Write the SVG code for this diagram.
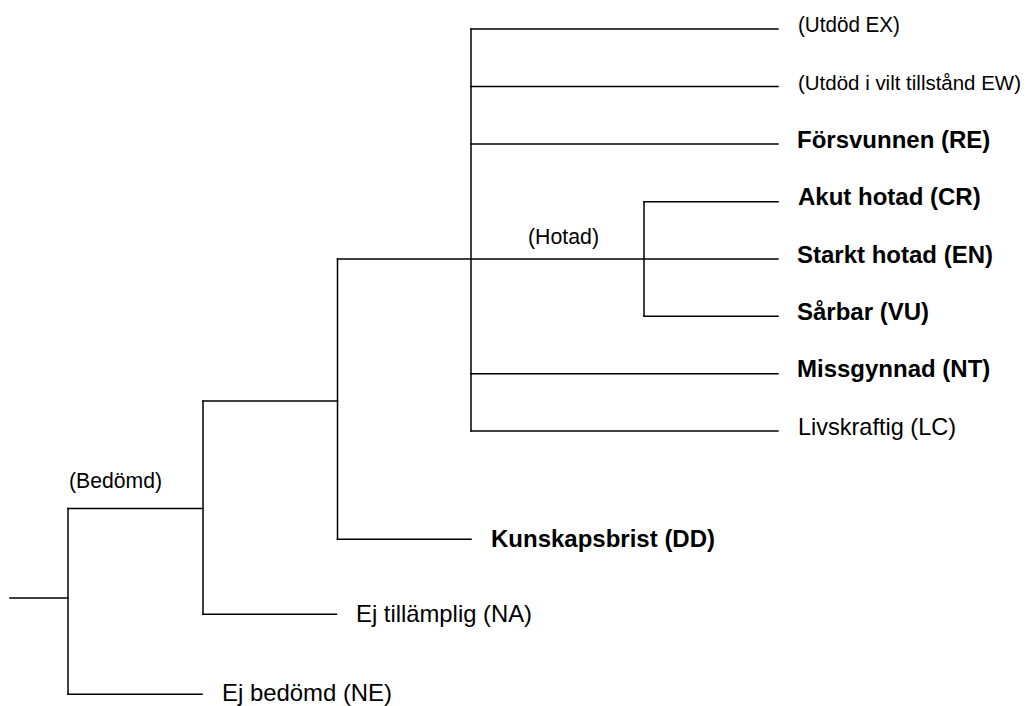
<svg xmlns="http://www.w3.org/2000/svg" width="1031" height="706" viewBox="0 0 1031 706">
  <style>
    .edge { stroke: #000; stroke-width: 1.5; fill: none; stroke-linecap: square; }
    .lbl { font-family: "Liberation Sans", Arial, sans-serif; font-size: 24px; fill: #000; }
    .bold { font-weight: bold; font-size: 24px; }
    .grp { font-family: "Liberation Sans", Arial, sans-serif; font-size: 22px; fill: #000; }
    .grp-s { font-size: 20.5px; }
  </style>
  <rect width="1031" height="706" fill="#fff"/>
  <g id="connectors">
    <path class="edge" d="M10,598 H68"/>
    <path class="edge" d="M68,508.5 V694.3"/>
    <path class="edge" d="M68,508.5 H203"/>
    <path class="edge" d="M68,694.3 H202"/>
    <path class="edge" d="M203,401 V614.3"/>
    <path class="edge" d="M203,401 H337.5"/>
    <path class="edge" d="M203,614.3 H336.5"/>
    <path class="edge" d="M337.5,259 V539.3"/>
    <path class="edge" d="M337.5,539.3 H471"/>
    <path class="edge" d="M337.5,259 H778"/>
    <path class="edge" d="M471,29 V431"/>
    <path class="edge" d="M471,29 H778"/>
    <path class="edge" d="M471,86.5 H778"/>
    <path class="edge" d="M471,144 H778"/>
    <path class="edge" d="M471,373.7 H778"/>
    <path class="edge" d="M471,431 H778"/>
    <path class="edge" d="M644,201.7 V316.3"/>
    <path class="edge" d="M644,201.7 H778"/>
    <path class="edge" d="M644,316.3 H778"/>
  </g>
  <g id="node-bedomd"><text class="grp" x="69" y="487.5" textLength="93" lengthAdjust="spacingAndGlyphs">(Bedömd)</text></g>
  <g id="node-hotad"><text class="grp" x="528" y="244" textLength="71" lengthAdjust="spacingAndGlyphs">(Hotad)</text></g>
  <g id="node-EX"><text class="grp" x="798" y="32.3" textLength="102" lengthAdjust="spacingAndGlyphs">(Utdöd EX)</text></g>
  <g id="node-EW"><text class="grp grp-s" x="798" y="89.5" textLength="223" lengthAdjust="spacingAndGlyphs">(Utdöd i vilt tillstånd EW)</text></g>
  <g id="node-RE"><text class="lbl bold" x="797" y="147.5">Försvunnen (RE)</text></g>
  <g id="node-CR"><text class="lbl bold" x="798" y="205.2">Akut hotad (CR)</text></g>
  <g id="node-EN"><text class="lbl bold" x="797" y="262.6">Starkt hotad (EN)</text></g>
  <g id="node-VU"><text class="lbl bold" x="797" y="319.8">Sårbar (VU)</text></g>
  <g id="node-NT"><text class="lbl bold" x="797" y="377.2">Missgynnad (NT)</text></g>
  <g id="node-LC"><text class="lbl" x="798" y="435" textLength="158" lengthAdjust="spacingAndGlyphs">Livskraftig (LC)</text></g>
  <g id="node-DD"><text class="lbl bold" x="491" y="547">Kunskapsbrist (DD)</text></g>
  <g id="node-NA"><text class="lbl" x="356" y="622" textLength="176" lengthAdjust="spacingAndGlyphs">Ej tillämplig (NA)</text></g>
  <g id="node-NE"><text class="lbl" x="222" y="701" textLength="170" lengthAdjust="spacingAndGlyphs">Ej bedömd (NE)</text></g>
</svg>
